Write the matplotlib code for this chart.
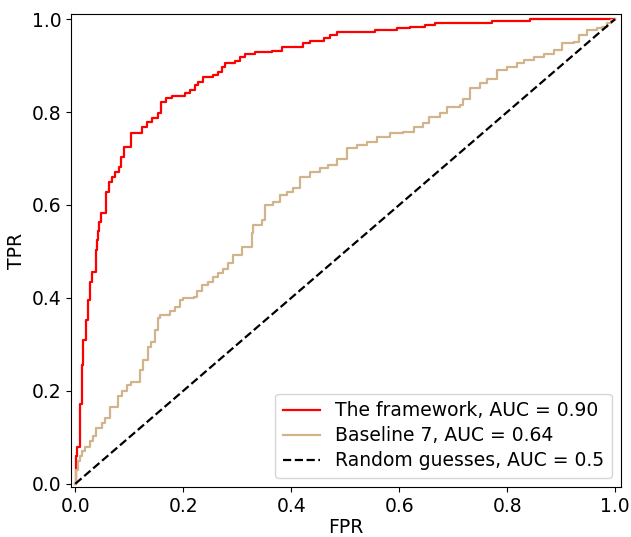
import numpy as np
import matplotlib
matplotlib.use("Agg")
import matplotlib.pyplot as plt

# ROC points (fpr, tpr); curve steps up at each fpr
fw_fpr = [0.0, 0.0005, 0.004, 0.008, 0.012, 0.015, 0.019, 0.023, 0.028, 0.031,
          0.038, 0.040, 0.042, 0.044, 0.047, 0.056, 0.063, 0.068, 0.073, 0.081,
          0.085, 0.090, 0.103, 0.123, 0.133, 0.142, 0.153, 0.159, 0.168, 0.179,
          0.203, 0.212, 0.222, 0.227, 0.237, 0.255, 0.264, 0.272, 0.277, 0.296,
          0.305, 0.315, 0.333, 0.365, 0.383, 0.422, 0.435, 0.460, 0.472, 0.485,
          0.556, 0.596, 0.620, 0.648, 0.667, 0.772, 0.843, 1.0]
fw_tpr = [0.0, 0.059, 0.080, 0.172, 0.256, 0.310, 0.353, 0.396, 0.435, 0.456,
          0.503, 0.525, 0.545, 0.563, 0.583, 0.628, 0.649, 0.660, 0.671, 0.682,
          0.703, 0.725, 0.755, 0.768, 0.778, 0.787, 0.798, 0.822, 0.830, 0.834,
          0.840, 0.847, 0.858, 0.864, 0.875, 0.879, 0.886, 0.897, 0.905, 0.910,
          0.918, 0.926, 0.929, 0.931, 0.940, 0.949, 0.953, 0.960, 0.966, 0.972,
          0.976, 0.980, 0.983, 0.987, 0.991, 0.996, 1.0, 1.0]

b7_fpr = [0.0, 0.002, 0.005, 0.008, 0.013, 0.018, 0.027, 0.033, 0.039, 0.049,
          0.055, 0.064, 0.079, 0.086, 0.095, 0.104, 0.120, 0.126, 0.135, 0.141,
          0.147, 0.154, 0.157, 0.175, 0.185, 0.194, 0.200, 0.219, 0.225, 0.234,
          0.246, 0.256, 0.265, 0.274, 0.283, 0.293, 0.308, 0.327, 0.330, 0.345,
          0.352, 0.367, 0.379, 0.392, 0.404, 0.417, 0.435, 0.454, 0.469, 0.485,
          0.503, 0.522, 0.540, 0.559, 0.583, 0.608, 0.627, 0.645, 0.655, 0.676,
          0.689, 0.713, 0.719, 0.732, 0.750, 0.763, 0.781, 0.800, 0.819, 0.831,
          0.849, 0.868, 0.886, 0.902, 0.924, 0.933, 0.948, 0.967, 0.976, 0.985,
          0.992, 1.0]
b7_tpr = [0.0, 0.030, 0.048, 0.059, 0.070, 0.080, 0.091, 0.102, 0.120, 0.131,
          0.141, 0.166, 0.188, 0.199, 0.213, 0.220, 0.245, 0.267, 0.295, 0.306,
          0.331, 0.356, 0.363, 0.371, 0.381, 0.396, 0.399, 0.403, 0.414, 0.428,
          0.435, 0.446, 0.453, 0.462, 0.475, 0.492, 0.510, 0.539, 0.557, 0.568,
          0.600, 0.607, 0.622, 0.629, 0.636, 0.661, 0.672, 0.679, 0.686, 0.700,
          0.722, 0.729, 0.736, 0.747, 0.754, 0.758, 0.768, 0.776, 0.790, 0.797,
          0.811, 0.815, 0.829, 0.851, 0.862, 0.872, 0.890, 0.897, 0.905, 0.913,
          0.919, 0.926, 0.933, 0.949, 0.951, 0.966, 0.976, 0.980, 0.983, 0.991,
          0.999, 1.0]

rand_x = [0.0, 1.0]
rand_y = [0.0, 1.0]

labels = ["The framework, AUC = 0.90", "Baseline 7, AUC = 0.64",
          "Random guesses, AUC = 0.5"]

fig = plt.figure(figsize=(6.31, 5.37), dpi=100)
ax = fig.add_axes([0.1125, 0.0931, 0.8717, 0.8808])

ax.plot(fw_fpr, fw_tpr, color="red", lw=1.6, drawstyle="steps-post", label=labels[0])
ax.plot(b7_fpr, b7_tpr, color="tan", lw=1.6, drawstyle="steps-post", label=labels[1])
ax.plot(rand_x, rand_y, color="black", lw=1.6, ls="--", label=labels[2])

ax.set_xlim(-0.008, 1.011)
ax.set_ylim(-0.007, 1.011)
ax.set_xticks([0.0, 0.2, 0.4, 0.6, 0.8, 1.0])
ax.set_yticks([0.0, 0.2, 0.4, 0.6, 0.8, 1.0])
ax.tick_params(labelsize=13.5)
ax.set_xlabel("FPR", fontsize=13.5, labelpad=1.5)
ax.set_ylabel("TPR", fontsize=13.5)
ax.legend(loc="lower right", fontsize=13.5, labelspacing=0.32)

fig.savefig("out.png", dpi=100)
